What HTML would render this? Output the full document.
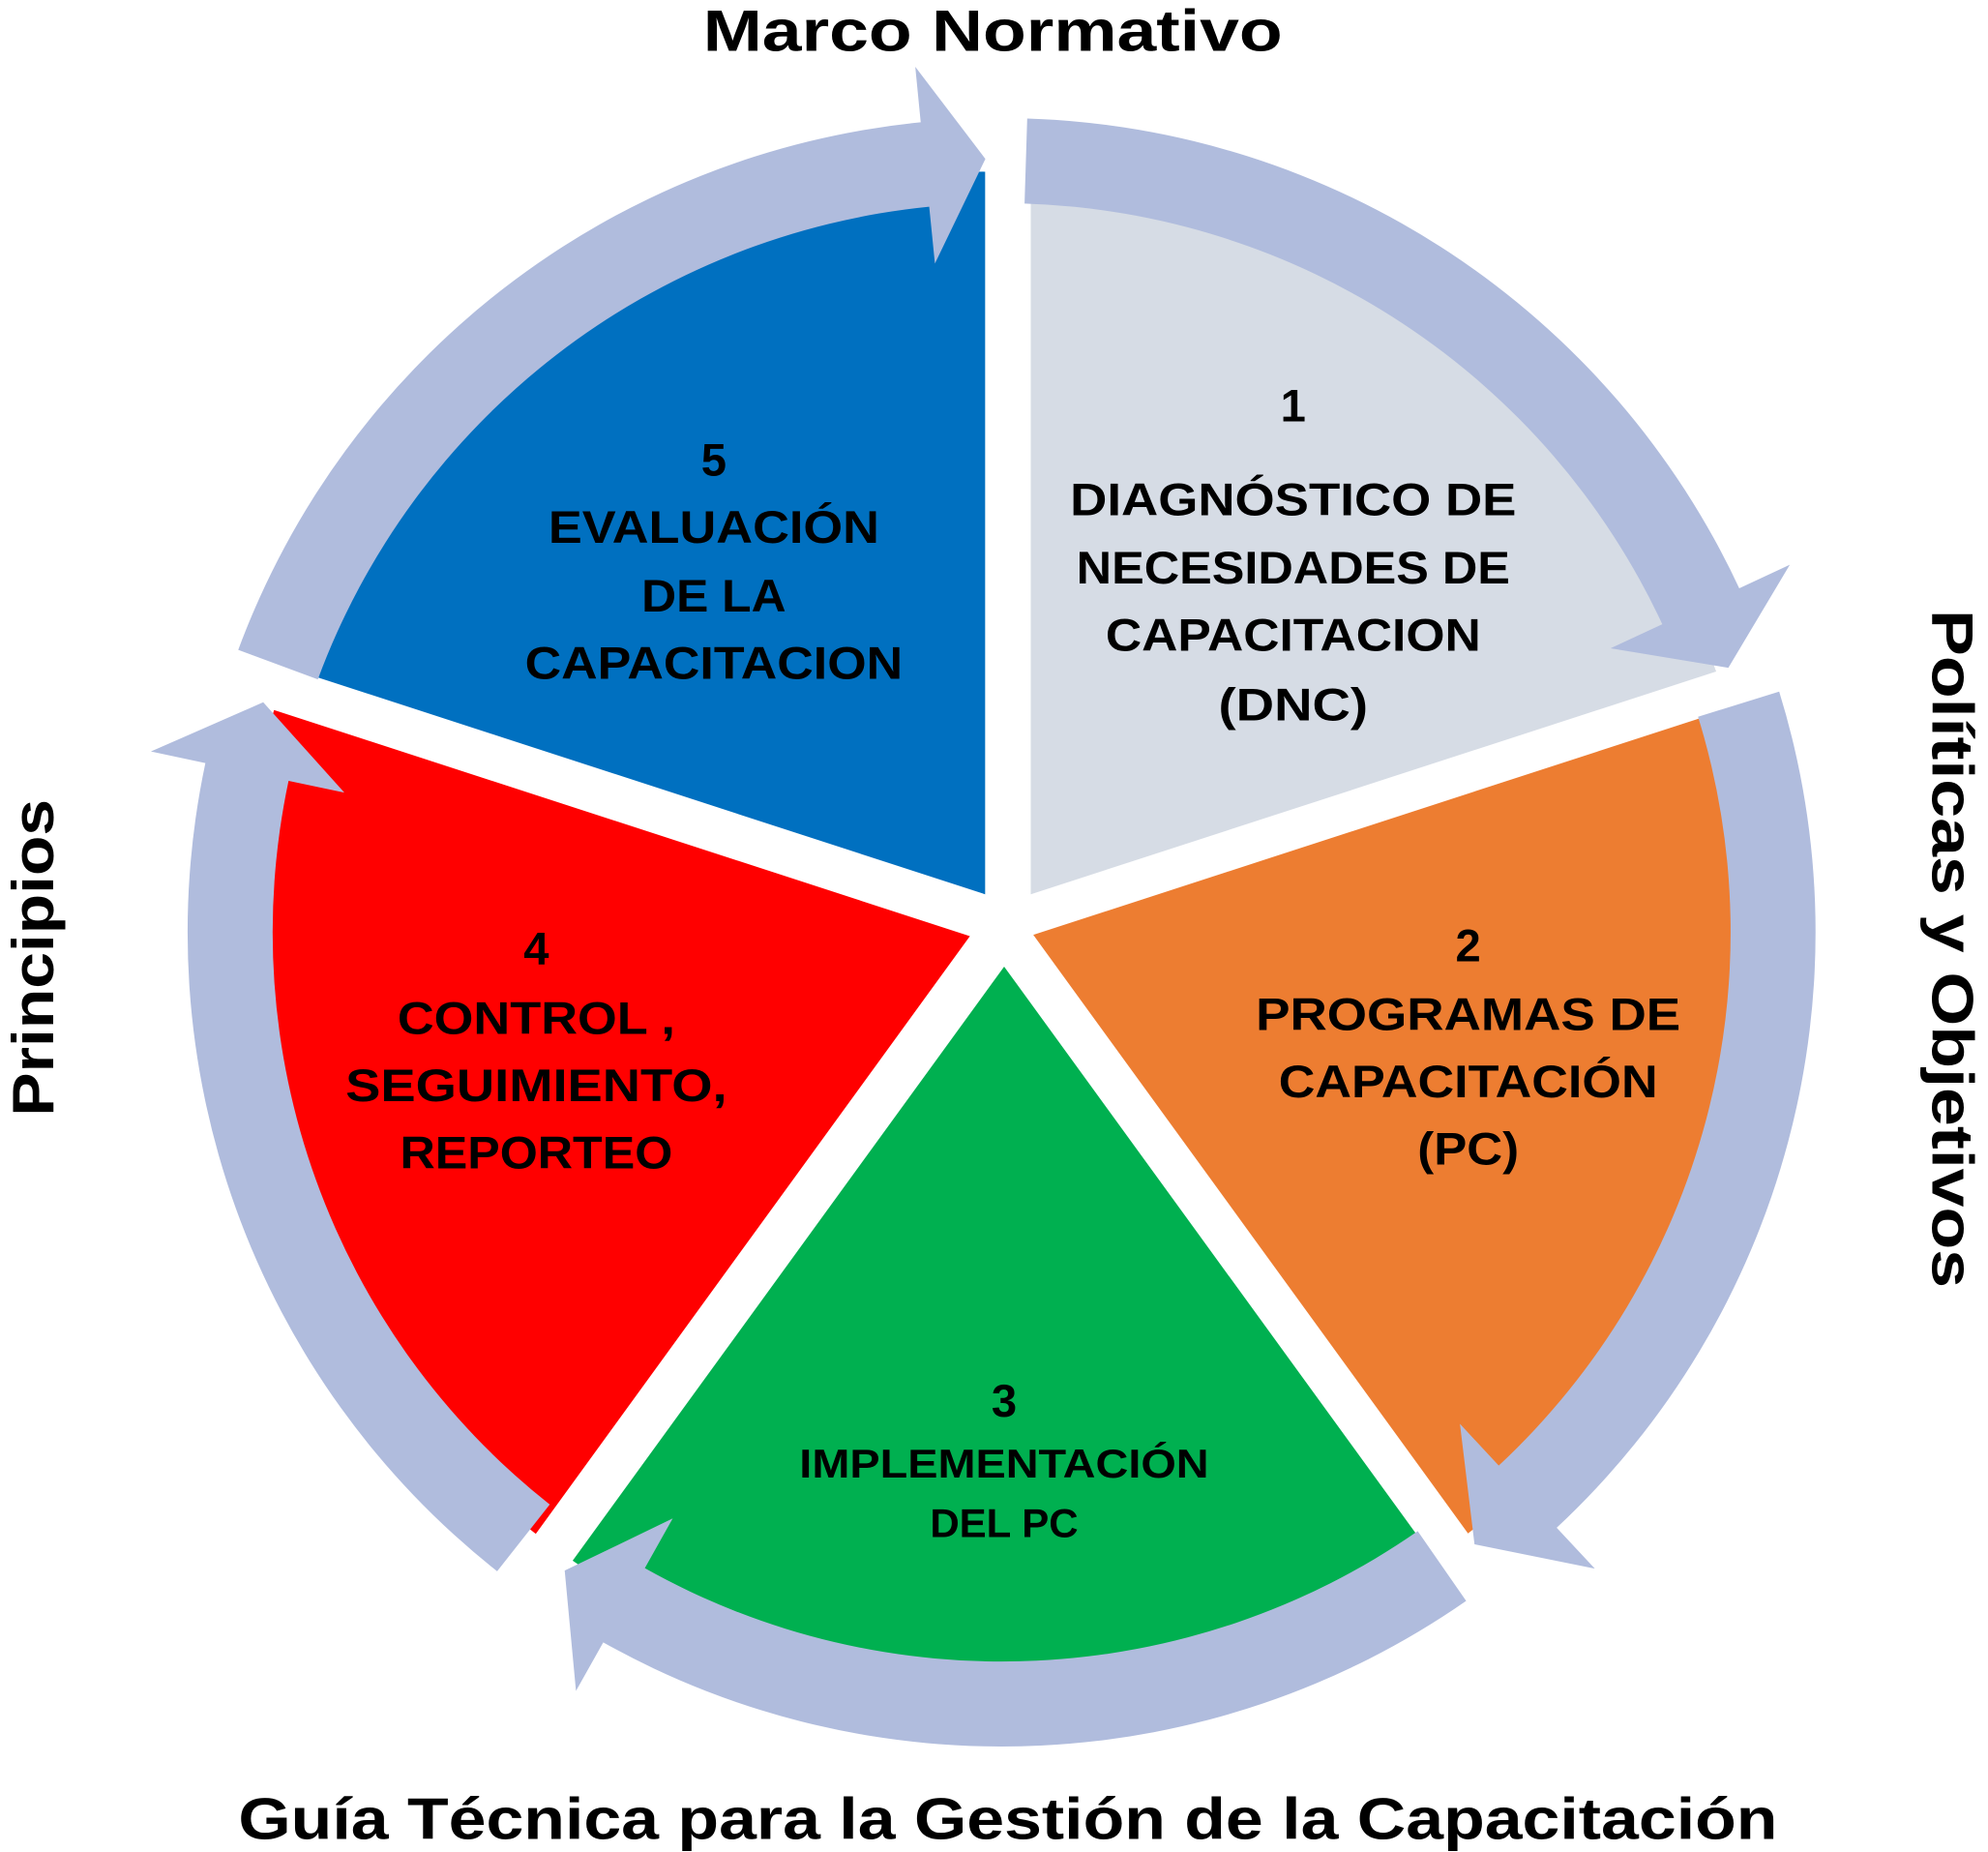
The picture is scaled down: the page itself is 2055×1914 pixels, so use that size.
<!DOCTYPE html>
<html><head><meta charset="utf-8"><style>
html,body{margin:0;padding:0;background:#fff;}
svg{display:block;}
text{font-family:"Liberation Sans",sans-serif;font-weight:bold;fill:#000;}
</style></head><body>
<svg id="s" width="2055" height="1914" viewBox="0 0 1568 1460" xmlns="http://www.w3.org/2000/svg">
<defs><clipPath id="cp"><circle cx="790" cy="735" r="600"/></clipPath></defs>
<g id="wedges" clip-path="url(#cp)"></g>
<g id="ring"></g>
<g font-size="36" text-anchor="middle">
<text x="1020" y="332">1</text>
<text x="1020" y="406" textLength="352" lengthAdjust="spacingAndGlyphs">DIAGNÓSTICO DE</text>
<text x="1020" y="460" textLength="342" lengthAdjust="spacingAndGlyphs">NECESIDADES DE</text>
<text x="1020" y="513" textLength="296" lengthAdjust="spacingAndGlyphs">CAPACITACION</text>
<text x="1020" y="568" textLength="118" lengthAdjust="spacingAndGlyphs">(DNC)</text>
<text x="1158" y="758">2</text>
<text x="1158" y="812" textLength="335" lengthAdjust="spacingAndGlyphs">PROGRAMAS DE</text>
<text x="1158" y="865" textLength="299" lengthAdjust="spacingAndGlyphs">CAPACITACIÓN</text>
<text x="1158" y="918" textLength="80" lengthAdjust="spacingAndGlyphs">(PC)</text>
<text x="792" y="1117">3</text>
<text x="792" y="1165" font-size="32" textLength="323" lengthAdjust="spacingAndGlyphs">IMPLEMENTACIÓN</text>
<text x="792" y="1212" font-size="32" textLength="117" lengthAdjust="spacingAndGlyphs">DEL PC</text>
<text x="423" y="760">4</text>
<text x="423" y="815" textLength="219" lengthAdjust="spacingAndGlyphs">CONTROL ,</text>
<text x="423" y="868" textLength="301" lengthAdjust="spacingAndGlyphs">SEGUIMIENTO,</text>
<text x="423" y="921" textLength="215" lengthAdjust="spacingAndGlyphs">REPORTEO</text>
<text x="563" y="375">5</text>
<text x="563" y="428" textLength="261" lengthAdjust="spacingAndGlyphs">EVALUACIÓN</text>
<text x="563" y="482" textLength="114" lengthAdjust="spacingAndGlyphs">DE LA</text>
<text x="563" y="535" textLength="298" lengthAdjust="spacingAndGlyphs">CAPACITACION</text>
</g>
<g font-size="46" text-anchor="middle">
<text x="783" y="40" textLength="457" lengthAdjust="spacingAndGlyphs">Marco Normativo</text>
<text x="795" y="1450" textLength="1214" lengthAdjust="spacingAndGlyphs">Guía Técnica para la Gestión de la Capacitación</text>
<text transform="translate(42,755) rotate(-90)" x="0" y="0" textLength="250" lengthAdjust="spacingAndGlyphs">Principios</text>
<text transform="translate(1524,748) rotate(90)" x="0" y="0" textLength="535" lengthAdjust="spacingAndGlyphs">Políticas y  Objetivos</text>
</g>
</svg>
<script>
(function(){
var NS="http://www.w3.org/2000/svg";
function P(cx,cy,r,a){a=a*Math.PI/180;return [cx+r*Math.cos(a),cy+r*Math.sin(a)];}
function f(p){return p[0].toFixed(1)+","+p[1].toFixed(1);}
var W=document.getElementById("wedges");
var segs=[[813,705,-90,-18,"#d6dce5"],[815,737,-18,54,"#ed7d31"],[792,762,54,126,"#00b050"],[765,738,126,198,"#ff0000"],[777,705,198,270,"#0070c0"]];
segs.forEach(function(s){
 var r=700,a=P(s[0],s[1],r,s[2]),b=P(s[0],s[1],r,s[3]);
 var p=document.createElementNS(NS,"path");
 p.setAttribute("d","M"+s[0]+","+s[1]+" L"+f(a)+" A"+r+","+r+" 0 0 1 "+f(b)+" Z");
 p.setAttribute("fill",s[4]);W.appendChild(p);
});
var R=document.getElementById("ring");
var cx=790,cy=735,ri=575,ro=642,hi=530,ho=686,rt=610,col="#b0bcdd";
var arr=[[-88.2,-25,-20],[-17.2,47,52.3],[55.2,119.3,124.4],[128.3,192,197.3],[200.3,264.3,268.8]];
arr.forEach(function(a){
 var s=a[0],e=a[1],t=a[2];
 var p1=P(cx,cy,ro,s),p2=P(cx,cy,ro,e),p3=P(cx,cy,ho,e),p4=P(cx,cy,rt,t),p5=P(cx,cy,hi,e),p6=P(cx,cy,ri,e),p7=P(cx,cy,ri,s);
 var d="M"+f(p1)+" A"+ro+","+ro+" 0 0 1 "+f(p2)+" L"+f(p3)+" L"+f(p4)+" L"+f(p5)+" L"+f(p6)+" A"+ri+","+ri+" 0 0 0 "+f(p7)+" Z";
 var p=document.createElementNS(NS,"path");p.setAttribute("d",d);p.setAttribute("fill",col);R.appendChild(p);
});
})();
</script>
</body></html>
